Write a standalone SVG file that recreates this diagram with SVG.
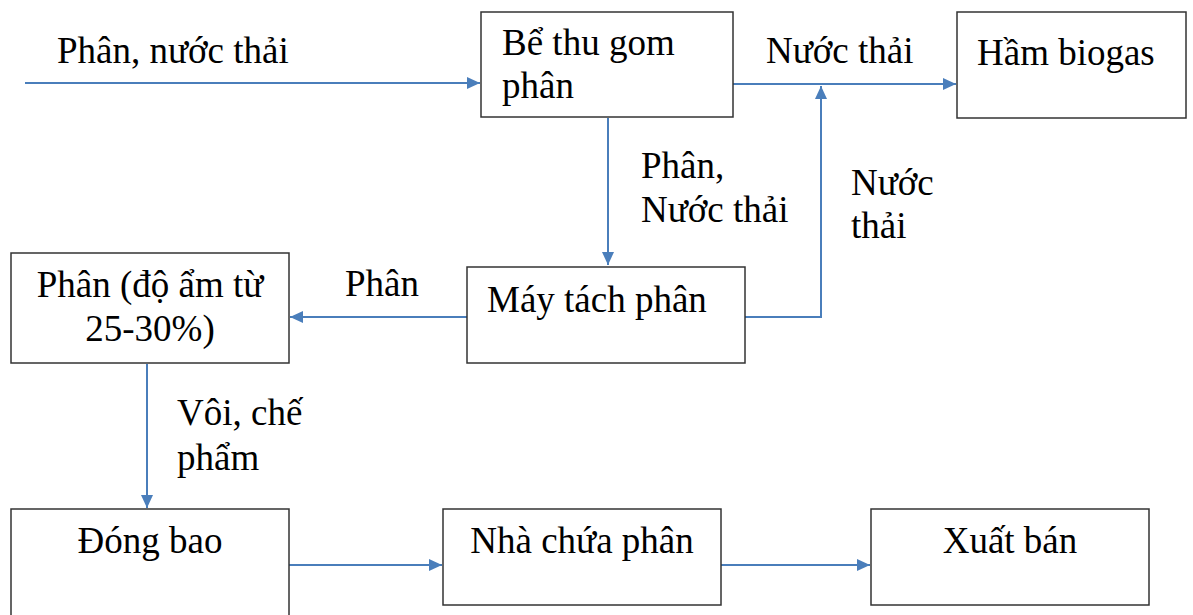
<svg xmlns="http://www.w3.org/2000/svg" width="1193" height="615" viewBox="0 0 1193 615">
<style>
.box{fill:#fff;stroke:#333;stroke-width:1.5}
.t{font-family:"Liberation Serif","Times New Roman",serif;font-size:37px;fill:#000}
.c{text-anchor:middle}
.ln{fill:none;stroke:#4a7ebb;stroke-width:2}
</style>
<defs>
<marker id="ah" markerUnits="userSpaceOnUse" markerWidth="14" markerHeight="14" refX="13" refY="7" orient="auto">
<path d="M0,1 L13,7 L0,13 Z" fill="#4a7ebb"/>
</marker>
</defs>
<g id="connectors">
<path class="ln" d="M25,83 H480" marker-end="url(#ah)"/>
<path class="ln" d="M733,84 H956" marker-end="url(#ah)"/>
<path class="ln" d="M745,317 H821 V86" marker-end="url(#ah)"/>
<path class="ln" d="M608,118 V265" marker-end="url(#ah)"/>
<path class="ln" d="M467,317 H290" marker-end="url(#ah)"/>
<path class="ln" d="M147,364 V508" marker-end="url(#ah)"/>
<path class="ln" d="M289,565 H442" marker-end="url(#ah)"/>
<path class="ln" d="M721,565 H870" marker-end="url(#ah)"/>
<text class="t" x="57" y="63">Phân, nước thải</text>
<text class="t" x="766" y="63">Nước thải</text>
<text class="t" x="641" y="178">Phân,</text>
<text class="t" x="641" y="222">Nước thải</text>
<text class="t" x="851" y="195">Nước</text>
<text class="t" x="851" y="238">thải</text>
<text class="t" x="345" y="296">Phân</text>
<text class="t" x="177" y="425">Vôi, chế</text>
<text class="t" x="177" y="470">phẩm</text>
</g>
<g id="be-thu-gom">
<rect class="box" x="481" y="12" width="252" height="105"/>
<text class="t" x="502" y="55">Bể thu gom</text>
<text class="t" x="502" y="98">phân</text>
</g>
<g id="ham-biogas">
<rect class="box" x="957" y="12" width="229" height="106"/>
<text class="t" x="977" y="65">Hầm biogas</text>
</g>
<g id="may-tach-phan">
<rect class="box" x="467" y="267" width="278" height="96"/>
<text class="t" x="487" y="312">Máy tách phân</text>
</g>
<g id="phan-do-am">
<rect class="box" x="11" y="253" width="278" height="110"/>
<text class="t c" x="150" y="297">Phân (độ ẩm từ</text>
<text class="t c" x="150" y="341">25-30%)</text>
</g>
<g id="dong-bao">
<rect class="box" x="11" y="509" width="278" height="120"/>
<text class="t c" x="150" y="553">Đóng bao</text>
</g>
<g id="nha-chua-phan">
<rect class="box" x="443" y="509" width="278" height="96"/>
<text class="t c" x="582" y="553">Nhà chứa phân</text>
</g>
<g id="xuat-ban">
<rect class="box" x="871" y="509" width="278" height="96"/>
<text class="t c" x="1010" y="553">Xuất bán</text>
</g>
</svg>
